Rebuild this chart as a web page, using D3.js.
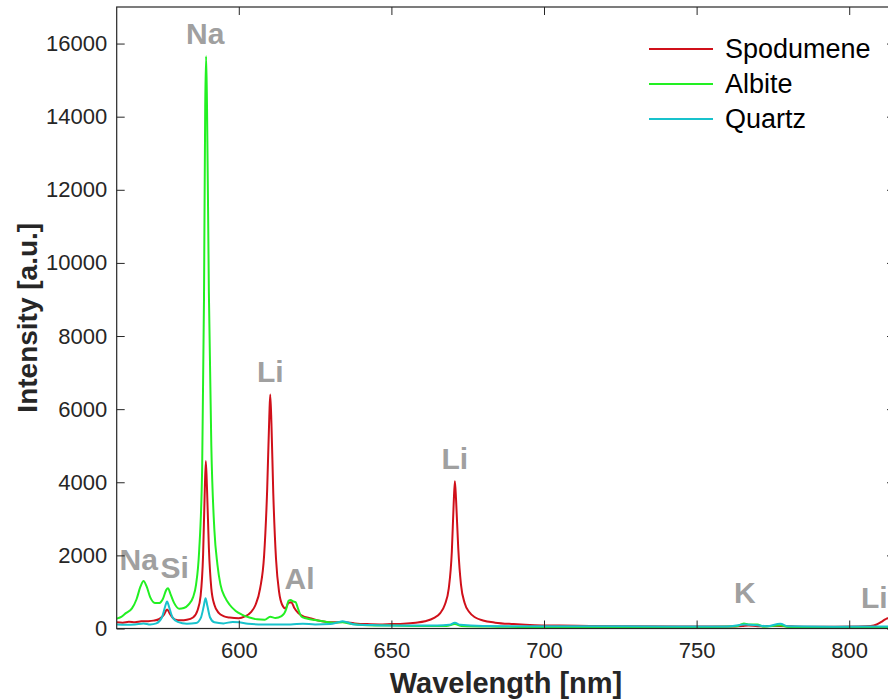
<!DOCTYPE html>
<html>
<head>
<meta charset="utf-8">
<script src="https://cdn.jsdelivr.net/npm/d3@7"></script>
<style>
  html, body { margin: 0; padding: 0; background: #fff; overflow: hidden; }
  svg { display: block; font-family: "Liberation Sans", Arial, sans-serif; }
</style>
</head>
<body>
<svg id="chart" width="888" height="700"></svg>
<script>
// ---------- data ----------
const seriesNames = ["Spodumene", "Albite", "Quartz"];
const seriesColors = ["#d0101a", "#22f022", "#18c2cc"];

const spodumeneWl = [560,562,564,566,568,570,572,574,575.5,576.5,577.5,579,581,583,585,586.5,587.5,588.3,588.8,589.2,589.6,590.2,591,592,593.5,595,597,600,602,604,605.5,607,608.3,609.3,610,610.3,610.7,611.3,612.2,613.2,614.2,615.3,616.3,617.2,618.2,619.5,621,623,626,630,634,638,642,646,650,654,658,661,664,666,667.5,668.8,669.8,670.4,670.8,671.2,671.9,672.8,674,675.5,677.5,680,684,690,697,705,715,730,745,760,765,767,770,777,785,795,803,807,809,810.5,811.8,812.6,813.5,815];
const spodumeneI = [170,160,185,170,195,200,215,260,380,520,390,250,225,240,300,500,900,2000,3600,4580,3800,2200,1100,650,420,340,300,280,330,450,650,1100,2000,3800,5800,6400,5600,3700,1900,1000,650,550,700,720,560,420,340,290,220,170,175,140,120,110,120,130,160,200,290,420,650,1100,2100,3400,4030,3500,2200,1200,700,450,300,220,160,120,90,80,70,60,55,55,70,85,60,70,50,50,55,70,110,180,250,280,230,150];

const albiteWl = [560,561.5,563,565,566.5,567.8,568.8,569.8,571,572.5,574,575.2,576.2,576.8,577.6,578.8,580.5,582,583.5,585,586,587,588,588.6,589,589.3,589.6,590.2,591,592,593,594,595.5,597,599,601,603.5,606,608.5,610.3,612,614,615.5,616.3,617,617.8,618.6,619.5,620.5,622,625,628,631,634,637,642,650,660,668,670.8,673,685,700,720,740,755,763,765.5,767,769.9,772,777.4,780,795,810,815];
const albiteI = [270,320,420,550,800,1150,1300,1150,850,700,700,820,1050,1100,950,700,540,560,650,850,1200,2100,4400,9000,14300,15650,14200,9200,5000,2700,1750,1200,850,650,480,380,300,250,240,320,290,340,520,760,780,740,720,520,330,280,230,190,160,170,120,90,80,70,70,120,70,50,40,35,40,40,60,140,110,110,50,90,40,40,40,40];

const quartzWl = [560,563,566,568.8,571,573,574.8,575.8,576.5,577.2,578.3,580,583,586,587.6,588.5,589.1,589.7,590.6,592,595,598,600,603,608,612,617,621,625,630,632.5,634,635.5,638,645,655,665,669,670.8,672.5,680,700,720,740,760,766,769.9,773,777.4,780,795,810,815];
const quartzI = [110,100,110,140,110,140,300,580,740,580,300,180,130,150,300,600,830,620,300,170,140,180,170,130,110,110,110,130,110,120,170,200,170,110,90,80,80,100,160,100,70,60,60,55,55,110,90,60,130,60,50,55,55];

const xTicks = [600, 650, 700, 750, 800];
const yTicks = [0, 2000, 4000, 6000, 8000, 10000, 12000, 14000, 16000];

const peakLabels = ["Na", "Li", "Li", "Na", "Si", "Al", "K", "Li"];
const peakLabelWl = [589.0, 610.3, 670.8, 567.2, 579.0, 619.9, 765.8, 808.2];
const peakLabelI = [16000, 6750, 4350, 1600, 1380, 1080, 700, 560];

// ---------- layout ----------
const svg = d3.select("#chart");
const mLeft = 116.7, mRight = 895, mTop = 7, mBottom = 628.5;
const x = d3.scaleLinear().domain([560, 815]).range([mLeft, mRight]);
const y = d3.scaleLinear().domain([0, 17000]).range([mBottom, mTop]);
const axisColor = "#262626";

svg.append("defs").append("clipPath").attr("id", "clip")
  .append("rect").attr("x", mLeft).attr("y", mTop).attr("width", mRight - mLeft).attr("height", mBottom - mTop);

// lines
const series = [
  { name: seriesNames[0], color: seriesColors[0], wl: spodumeneWl, v: spodumeneI },
  { name: seriesNames[1], color: seriesColors[1], wl: albiteWl, v: albiteI },
  { name: seriesNames[2], color: seriesColors[2], wl: quartzWl, v: quartzI }
];
const line = d3.line().x(d => x(d[0])).y(d => y(d[1])).curve(d3.curveMonotoneX);
const plotG = svg.append("g").attr("clip-path", "url(#clip)");
series.forEach(s => {
  plotG.append("path")
    .datum(s.wl.map((w, i) => [w, s.v[i]]))
    .attr("fill", "none")
    .attr("stroke", s.color)
    .attr("stroke-width", 2)
    .attr("stroke-linejoin", "round")
    .attr("d", line);
});

// peak labels
svg.append("g").selectAll("text").data(peakLabels).join("text")
  .attr("x", (d, i) => x(peakLabelWl[i]))
  .attr("y", (d, i) => y(peakLabelI[i]))
  .attr("text-anchor", "middle")
  .attr("font-size", 30).attr("font-weight", "bold")
  .attr("fill", "#a0a0a0")
  .text(d => d);

// axes
function styleAxis(g) {
  g.select(".domain").remove();
  g.selectAll("line").attr("stroke", axisColor);
  g.selectAll("text").attr("fill", axisColor).attr("font-size", 22)
    .attr("font-family", "'Liberation Sans', Arial, sans-serif");
}
svg.append("g").attr("transform", `translate(0,${mBottom})`)
  .call(d3.axisBottom(x).tickValues(xTicks).tickFormat(d3.format("d")).tickSizeInner(-8).tickSizeOuter(0).tickPadding(14))
  .call(styleAxis);
svg.append("g").attr("transform", `translate(0,${mTop})`)
  .call(d3.axisTop(x).tickValues(xTicks).tickFormat("").tickSizeInner(-8).tickSizeOuter(0))
  .call(styleAxis);
svg.append("g").attr("transform", `translate(${mLeft},0)`)
  .call(d3.axisLeft(y).tickValues(yTicks).tickFormat(d3.format("d")).tickSizeInner(-8).tickSizeOuter(0).tickPadding(9.5))
  .call(styleAxis);
svg.append("g").attr("transform", `translate(${mRight},0)`)
  .call(d3.axisRight(y).tickValues(yTicks).tickFormat("").tickSizeInner(-8).tickSizeOuter(0))
  .call(styleAxis);

svg.append("rect").attr("x", mLeft).attr("y", mTop).attr("width", mRight - mLeft).attr("height", mBottom - mTop)
  .attr("fill", "none").attr("stroke", axisColor).attr("stroke-width", 1.2);

// axis titles
svg.append("text").attr("x", 506).attr("y", 693)
  .attr("text-anchor", "middle").attr("font-size", 29).attr("font-weight", "bold").attr("fill", axisColor)
  .text("Wavelength [nm]");
svg.append("text").attr("transform", `translate(37,${(mTop + mBottom) / 2}) rotate(-90)`)
  .attr("text-anchor", "middle").attr("font-size", 28).attr("font-weight", "bold").attr("fill", axisColor)
  .text("Intensity [a.u.]");

// legend
const leg = svg.append("g");
series.forEach((s, i) => {
  const ly = 49 + i * 35;
  leg.append("line").attr("x1", 649).attr("x2", 713).attr("y1", ly).attr("y2", ly)
    .attr("stroke", s.color).attr("stroke-width", 2);
  leg.append("text").attr("x", 725).attr("y", ly).attr("dy", "0.35em")
    .attr("font-size", 27).attr("fill", "#000").text(s.name);
});
</script>
</body>
</html>
